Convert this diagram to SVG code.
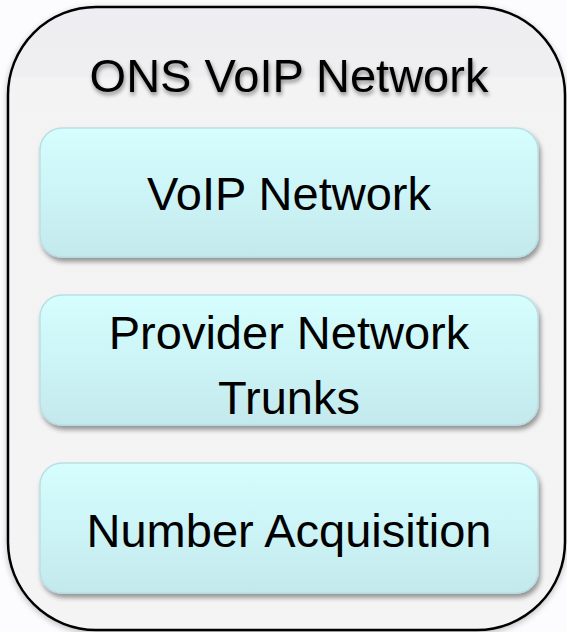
<svg xmlns="http://www.w3.org/2000/svg" width="567" height="632" viewBox="0 0 567 632">
<defs>
<linearGradient id="outerFill" x1="0" y1="0" x2="0" y2="1">
<stop offset="0" stop-color="#eeeef2"/>
<stop offset="0.11" stop-color="#efeff1"/>
<stop offset="0.115" stop-color="#f3f3f3"/>
<stop offset="1" stop-color="#f4f4f4"/>
</linearGradient>
<linearGradient id="boxFill" x1="0" y1="0" x2="0" y2="1">
<stop offset="0" stop-color="#d6fefe"/>
<stop offset="1" stop-color="#c3e9ed"/>
</linearGradient>
<filter id="boxShadow" x="-10%" y="-10%" width="120%" height="130%">
<feGaussianBlur in="SourceAlpha" stdDeviation="2.5"/>
<feOffset dx="2" dy="4" result="b"/>
<feComponentTransfer><feFuncA type="linear" slope="0.4"/></feComponentTransfer>
<feMerge><feMergeNode/><feMergeNode in="SourceGraphic"/></feMerge>
</filter>
<filter id="outerShadow" x="-5%" y="-5%" width="110%" height="110%">
<feGaussianBlur in="SourceAlpha" stdDeviation="3"/>
<feOffset dx="0" dy="2"/>
<feComponentTransfer><feFuncA type="linear" slope="0.25"/></feComponentTransfer>
<feMerge><feMergeNode/><feMergeNode in="SourceGraphic"/></feMerge>
</filter>
<filter id="textShadow" x="-10%" y="-30%" width="120%" height="170%">
<feGaussianBlur in="SourceAlpha" stdDeviation="2"/>
<feOffset dx="1" dy="3"/>
<feComponentTransfer><feFuncA type="linear" slope="0.45"/></feComponentTransfer>
<feMerge><feMergeNode/><feMergeNode in="SourceGraphic"/></feMerge>
</filter>
</defs>
<style>
.lbl{font-family:"Liberation Sans",Arial,sans-serif;font-size:47px;fill:#000;text-anchor:middle}
.box{fill:url(#boxFill);stroke:#b9dfe3;stroke-width:1.5;filter:url(#boxShadow)}
</style>
<rect x="0" y="0" width="567" height="632" fill="#fcfcfe"/>
<g id="container">
<rect x="8" y="7" width="557" height="623" rx="88" ry="88" fill="url(#outerFill)" stroke="#000" stroke-width="2.5" filter="url(#outerShadow)"/>
<text class="lbl" x="289" y="92" filter="url(#textShadow)">ONS VoIP Network</text>
</g>
<g id="voip-network">
<rect class="box" x="40" y="128" width="498" height="129" rx="22" ry="22"/>
<text class="lbl" x="289" y="210">VoIP Network</text>
</g>
<g id="provider-network-trunks">
<rect class="box" x="40" y="295" width="498" height="130" rx="22" ry="22"/>
<text class="lbl" x="289" y="349">Provider Network</text>
<text class="lbl" x="289" y="414">Trunks</text>
</g>
<g id="number-acquisition">
<rect class="box" x="40" y="463" width="498" height="130" rx="22" ry="22"/>
<text class="lbl" x="289" y="547">Number Acquisition</text>
</g>
<g id="connectors"/>
</svg>
